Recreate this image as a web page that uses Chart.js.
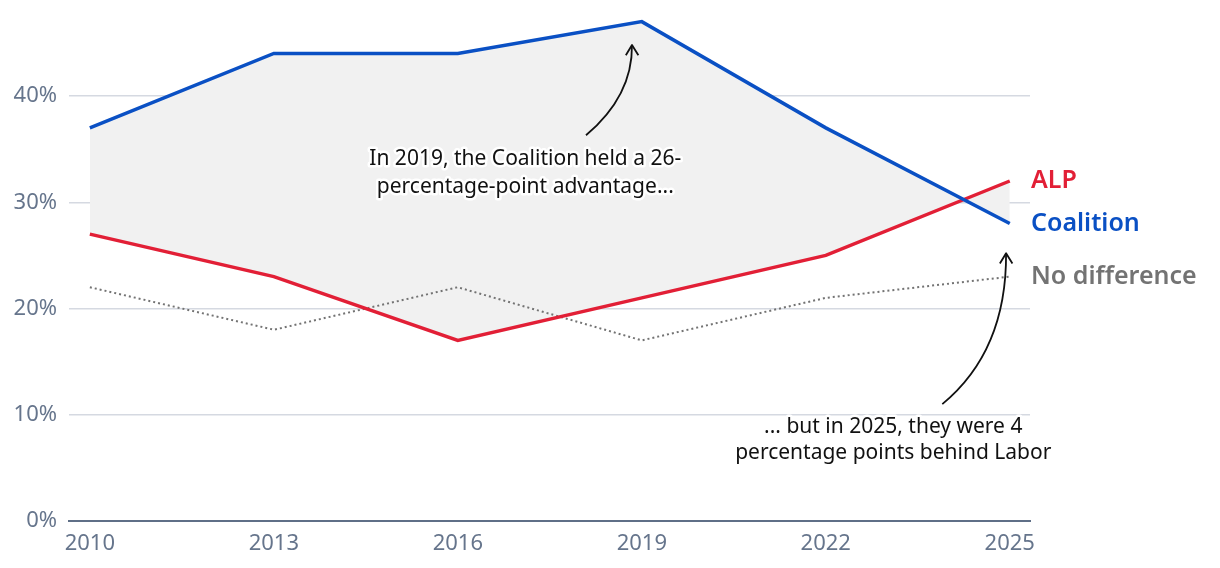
<!DOCTYPE html>
<html>
<head>
<meta charset="utf-8">
<script src="https://cdn.jsdelivr.net/npm/chart.js@4/dist/chart.umd.min.js"></script>
<style>
  html, body { margin: 0; padding: 0; background: #fff; }
  #wrap { width: 1220px; height: 568px; position: relative; }
</style>
</head>
<body>
<div id="wrap"><canvas id="voteChart"></canvas></div>
<script>
const years = [2010, 2013, 2016, 2019, 2022, 2025];
const coalition = [37, 44, 44, 47, 37, 28];
const alp = [27, 23, 17, 21, 25, 32];
const noDifference = [22, 18, 22, 17, 21, 23];
const yTicks = [0, 10, 20, 30, 40];

const FONT = "'Noto Sans', sans-serif";
const COL_COALITION = '#0a50c4';
const COL_ALP = '#e21f36';
const COL_NODIFF = '#737373';

function toPoints(values) {
    return values.map((v, i) => ({ x: years[i], y: v }));
}

// end-of-line labels + annotations
const labelsPlugin = {
    id: 'endLabels',
    afterDatasetsDraw(chart) {
        const ctx = chart.ctx;
        const xs = chart.scales.x;
        const ys = chart.scales.y;
        const right = chart.chartArea.right;
        const last = years.length - 1;

        ctx.save();
        ctx.font = `600 25px ${FONT}`;
        ctx.textBaseline = 'middle';
        ctx.textAlign = 'left';
        [['ALP', alp, COL_ALP], ['Coalition', coalition, COL_COALITION], ['No difference', noDifference, COL_NODIFF]]
            .forEach(([name, vals, col]) => {
                ctx.fillStyle = col;
                ctx.fillText(name, right + 1, ys.getPixelForValue(vals[last]));
            });

        // annotation text with white halo
        ctx.font = `21px ${FONT}`;
        ctx.textAlign = 'center';
        const note = (lines, year, vals) => {
            lines.forEach((t, i) => {
                const px = xs.getPixelForValue(year);
                const py = ys.getPixelForValue(vals[i]);
                ctx.strokeStyle = '#fff';
                ctx.lineWidth = 5;
                ctx.lineJoin = 'round';
                ctx.strokeText(t, px, py);
                ctx.fillStyle = '#111';
                ctx.fillText(t, px, py);
            });
        };
        note(['In 2019, the Coalition held a 26-', 'percentage-point advantage...'], 2017.1, [34.1, 31.4]);
        note(['... but in 2025, they were 4', 'percentage points behind Labor'], 2023.1, [8.8, 6.4]);

        // curved arrows
        const arrow = (x0, y0, cx, cy, x1, y1) => {
            const p0 = [xs.getPixelForValue(x0), ys.getPixelForValue(y0)];
            const pc = [xs.getPixelForValue(cx), ys.getPixelForValue(cy)];
            const p1 = [xs.getPixelForValue(x1), ys.getPixelForValue(y1)];
            ctx.strokeStyle = '#111';
            ctx.lineWidth = 1.8;
            ctx.beginPath();
            ctx.moveTo(p0[0], p0[1]);
            ctx.quadraticCurveTo(pc[0], pc[1], p1[0], p1[1]);
            ctx.stroke();
            const ang = Math.atan2(p1[1] - pc[1], p1[0] - pc[0]);
            const len = 12;
            ctx.beginPath();
            ctx.moveTo(p1[0] - len * Math.cos(ang - 0.55), p1[1] - len * Math.sin(ang - 0.55));
            ctx.lineTo(p1[0], p1[1]);
            ctx.lineTo(p1[0] - len * Math.cos(ang + 0.55), p1[1] - len * Math.sin(ang + 0.55));
            ctx.stroke();
        };
        arrow(2018.09, 36.3, 2018.85, 40.0, 2018.84, 44.8);
        arrow(2023.9, 11.0, 2024.95, 16.0, 2024.94, 25.2);
        ctx.restore();
    }
};

new Chart(document.getElementById('voteChart'), {
    type: 'line',
    data: {
        datasets: [
            {
                label: 'Coalition',
                data: toPoints(coalition),
                borderColor: COL_COALITION,
                borderWidth: 3.5,
                pointRadius: 0,
                tension: 0,
                fill: { target: 1 },
                backgroundColor: '#f1f1f1'
            },
            {
                label: 'ALP',
                data: toPoints(alp),
                borderColor: COL_ALP,
                borderWidth: 3.5,
                pointRadius: 0,
                tension: 0,
                fill: false
            },
            {
                label: 'No difference',
                data: toPoints(noDifference),
                borderColor: COL_NODIFF,
                borderWidth: 2,
                borderDash: [2, 3],
                pointRadius: 0,
                tension: 0,
                fill: false
            }
        ]
    },
    options: {
        responsive: true,
        maintainAspectRatio: false,
        animation: false,
        layout: { padding: { top: 11, right: 190, left: 0, bottom: 0 } },
        plugins: {
            legend: { display: false },
            tooltip: { enabled: false },
            filler: { drawTime: 'beforeDatasetsDraw' }
        },
        scales: {
            x: {
                type: 'linear',
                min: 2009.66,
                max: 2025.33,
                afterBuildTicks: axis => { axis.ticks = years.map(v => ({ value: v })); },
                afterFit: axis => { axis.height = 47; },
                grid: { display: false, drawTicks: false },
                border: { color: '#5f6f87', width: 2 },
                ticks: {
                    color: '#66758c',
                    font: { family: FONT, size: 22 },
                    padding: 10,
                    maxRotation: 0,
                    callback: v => String(v)
                }
            },
            y: {
                min: 0,
                max: 48,
                afterBuildTicks: axis => { axis.ticks = yTicks.map(v => ({ value: v })); },
                afterFit: axis => { axis.width = 69; axis.paddingTop = 0; },
                grid: { color: '#d5d9e1', lineWidth: 1.5, drawTicks: false },
                border: { display: false },
                ticks: {
                    color: '#66758c',
                    font: { family: FONT, size: 22 },
                    padding: 12,
                    callback: v => v + '%'
                }
            }
        }
    },
    plugins: [labelsPlugin]
});
</script>
</body>
</html>
